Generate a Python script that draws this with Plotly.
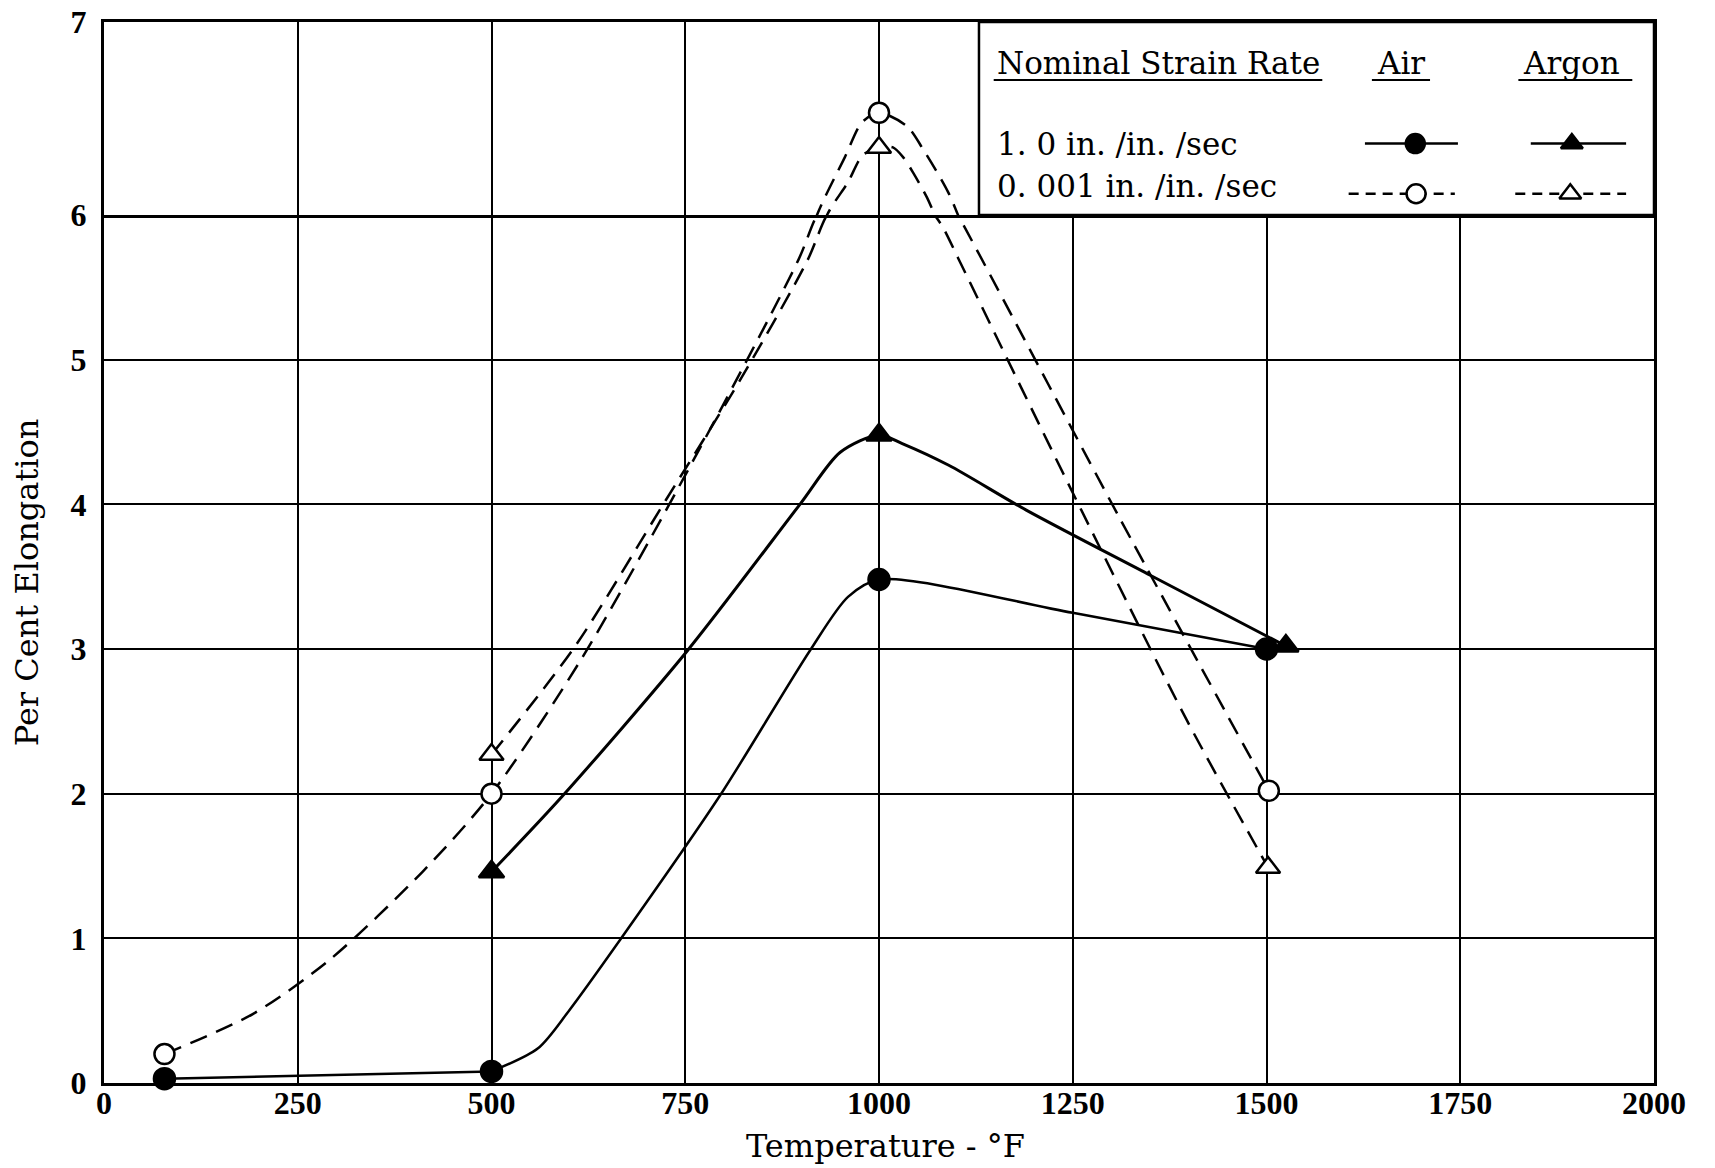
import plotly.graph_objects as go

# Tick values
temp_ticks = [0, 250, 500, 750, 1000, 1250, 1500, 1750, 2000]
elong_ticks_low = [0, 1, 2, 3, 4, 5, 6]
elong_ticks_high = [7]

# Above this elongation the vertical scale is stretched (top panel)
SCALE_BREAK = 6.0

# Test points: temperature (°F) and per cent elongation
air_fast_t = [78, 500, 1000, 1500]
air_fast_e = [0.03, 0.08, 3.48, 3.00]
argon_fast_t = [500, 1000, 1525]
argon_fast_e = [1.46, 4.48, 3.02]
air_slow_t = [78, 500, 1000, 1503]
air_slow_e = [0.20, 2.00, 6.53, 2.02]
argon_slow_t = [500, 1000, 1502]
argon_slow_e = [2.27, 6.35, 1.49]

# Faired curves drawn through the test points
air_fast_flat_t = [78, 500]
air_fast_flat_e = [0.03, 0.08]
air_fast_curve_t = [500, 560, 600, 666, 794, 911, 960, 1000, 1250, 1500]
air_fast_curve_e = [0.08, 0.24, 0.50, 0.99, 1.98, 2.99, 3.36, 3.48, 3.25, 3.00]

argon_fast_curve_t = [500, 591, 753, 898, 950, 1000, 1030, 1090, 1190, 1350, 1525]
argon_fast_curve_e = [1.46, 1.98, 2.99, 4.00, 4.36, 4.48, 4.42, 4.27, 3.96, 3.51, 3.02]

air_slow_curve_t = [78, 193, 293, 411, 500, 617, 760, 896, 920, 956, 978, 1000,
                    1036, 1057, 1089, 1109, 1310, 1503]
air_slow_curve_e = [0.20, 0.48, 0.86, 1.46, 2.00, 2.94, 4.30, 5.69, 6.00, 6.30, 6.48, 6.53,
                    6.46, 6.34, 6.12, 5.93, 3.91, 2.02]

argon_slow_curve_t = [500, 608, 725, 822, 908, 933, 960, 979, 1000, 1018, 1031, 1044, 1062,
                      1072, 1083, 1105, 1250, 1397, 1502]
argon_slow_curve_e = [2.27, 3.02, 4.03, 4.87, 5.69, 6.00, 6.17, 6.31, 6.35, 6.35, 6.30, 6.22, 6.09,
                      6.00, 5.91, 5.67, 4.08, 2.51, 1.49]

SERIF = "DejaVu Serif"
TICK_FONT = dict(family="Liberation Serif", size=32, color="black", weight="bold")
KEY_FONT = dict(family=SERIF, size=31, color="black")
TITLE_FONT = dict(family=SERIF, size=32, color="black")

DASH = "18px,10px"
SHORT_DASH = "10px,7px"

fig = go.Figure()


def add_curve(t, e, dash, width, shape="spline"):
    # the same curve goes on both panels; each panel clips it to its own range
    for xa, ya in (("x", "y"), ("x2", "y2")):
        line = dict(color="black", width=width, dash=dash, shape=shape)
        if shape == "spline":
            line["smoothing"] = 0.8
        fig.add_trace(go.Scatter(x=t, y=e, mode="lines", xaxis=xa, yaxis=ya,
                                 hoverinfo="skip", line=line))


def add_points(t, e, symbol, size, fill):
    low = [(a, b) for a, b in zip(t, e) if b <= SCALE_BREAK]
    high = [(a, b) for a, b in zip(t, e) if b > SCALE_BREAK]
    for pts, xa, ya in ((low, "x", "y"), (high, "x2", "y2")):
        if not pts:
            continue
        fig.add_trace(go.Scatter(
            x=[p[0] for p in pts], y=[p[1] for p in pts], mode="markers",
            xaxis=xa, yaxis=ya, cliponaxis=False,
            marker=dict(symbol=symbol, size=size, color=fill,
                        line=dict(color="black", width=2.5)),
        ))


add_curve(air_fast_flat_t, air_fast_flat_e, "solid", 2.5, shape="linear")
add_curve(air_fast_curve_t, air_fast_curve_e, "solid", 2.5)
add_curve(argon_fast_curve_t, argon_fast_curve_e, "solid", 3)
add_curve(air_slow_curve_t, air_slow_curve_e, DASH, 2.5)
add_curve(argon_slow_curve_t, argon_slow_curve_e, DASH, 2.5)

add_points(air_fast_t, air_fast_e, "circle", 21, "black")
add_points(argon_fast_t, argon_fast_e, "triangle-up", 22, "black")
add_points(air_slow_t, air_slow_e, "circle", 20, "white")
add_points(argon_slow_t, argon_slow_e, "triangle-up", 21, "white")

# ---- key box (upper right, drawn in the top panel's units) ----
KEY_X0, KEY_X1 = 1129, 2000
KEY_TEXT_X = 1150
KEY_HEAD_Y, KEY_RULE_Y = 6.79, 6.70
KEY_ROW1_Y, KEY_ROW2_Y = 6.37, 6.15
KEY_SAMPLE2_Y = 6.11

shapes = [
    dict(type="rect", xref="x2", yref="y2", x0=KEY_X0, x1=KEY_X1, y0=6, y1=7,
         fillcolor="white", line=dict(color="black", width=2.5), layer="between"),
]
for x0, x1 in ((1148, 1572), (1636, 1711), (1825, 1972)):
    shapes.append(dict(type="line", xref="x2", yref="y2", x0=x0, x1=x1,
                       y0=KEY_RULE_Y, y1=KEY_RULE_Y, line=dict(color="black", width=2)))

annotations = [
    dict(text="Nominal Strain Rate", x=KEY_TEXT_X, y=KEY_HEAD_Y, xanchor="left"),
    dict(text="Air", x=1674, y=KEY_HEAD_Y, xanchor="center"),
    dict(text="Argon", x=1893, y=KEY_HEAD_Y, xanchor="center"),
    dict(text="1. 0 in. /in. /sec", x=KEY_TEXT_X, y=KEY_ROW1_Y, xanchor="left"),
    dict(text="0. 001 in. /in. /sec", x=KEY_TEXT_X, y=KEY_ROW2_Y, xanchor="left"),
]
for a in annotations:
    a.update(xref="x2", yref="y2", yanchor="middle", showarrow=False, font=KEY_FONT)

key_samples = [
    # (line x0, line x1, marker x, y, dash, symbol, fill)
    (1627, 1747, 1692, KEY_ROW1_Y, "solid", "circle", "black"),
    (1841, 1964, 1894, KEY_ROW1_Y, "solid", "triangle-up", "black"),
    (1606, 1743, 1693, KEY_SAMPLE2_Y, SHORT_DASH, "circle", "white"),
    (1821, 1964, 1892, KEY_SAMPLE2_Y, SHORT_DASH, "triangle-up", "white"),
]
for x0, x1, xm, y, dash, sym, fill in key_samples:
    fig.add_trace(go.Scatter(x=[x0, x1], y=[y, y], mode="lines", xaxis="x2", yaxis="y2",
                             cliponaxis=False, hoverinfo="skip",
                             line=dict(color="black", width=2.5, dash=dash)))
    fig.add_trace(go.Scatter(x=[xm], y=[y], mode="markers", xaxis="x2", yaxis="y2",
                             cliponaxis=False, hoverinfo="skip",
                             marker=dict(symbol=sym, size=19, color=fill,
                                         line=dict(color="black", width=2.5))))

# axis titles
annotations.append(dict(text="Temperature - °F", xref="paper", yref="paper", x=0.5045, y=-0.0594,
                        xanchor="center", yanchor="middle", showarrow=False, font=TITLE_FONT))
annotations.append(dict(text="Per Cent Elongation", xref="paper", yref="paper", x=-0.0497, y=0.472,
                        xanchor="center", yanchor="middle", textangle=-90, showarrow=False, font=TITLE_FONT))

MARGIN_T, MARGIN_B = 22, 85
PLOT_H = 1168 - MARGIN_T - MARGIN_B
LOW_TOP = 868 / PLOT_H  # fraction of plot height taken by the 0-6 panel

frame = dict(showgrid=True, gridcolor="black", gridwidth=2,
             showline=True, linecolor="black", linewidth=3,
             zeroline=False, ticks="", fixedrange=True, automargin=False)

fig.update_layout(
    width=1715, height=1168,
    margin=dict(l=104, r=61, t=MARGIN_T, b=MARGIN_B, autoexpand=False),
    paper_bgcolor="white", plot_bgcolor="white",
    showlegend=False,
    shapes=shapes, annotations=annotations,
    xaxis=dict(range=[0, 2000], domain=[0, 1], anchor="y", mirror=False,
               tickvals=temp_ticks, ticktext=[str(v) for v in temp_ticks],
               tickfont=TICK_FONT, ticklabelstandoff=-10, **frame),
    yaxis=dict(range=[0, 6], domain=[0, LOW_TOP], anchor="x", mirror=True,
               tickvals=elong_ticks_low, ticktext=[str(v) for v in elong_ticks_low],
               tickfont=TICK_FONT, ticklabelstandoff=8, **frame),
    xaxis2=dict(range=[0, 2000], domain=[0, 1], anchor="y2", matches="x", mirror=True,
                tickvals=temp_ticks, showticklabels=False, **frame),
    yaxis2=dict(range=[6, 7], domain=[LOW_TOP, 1], anchor="x2", mirror=True,
                tickvals=elong_ticks_high, ticktext=[str(v) for v in elong_ticks_high],
                tickfont=TICK_FONT, ticklabelstandoff=8,
                **{**frame, "showgrid": False}),
)

fig.write_html("out.html")
